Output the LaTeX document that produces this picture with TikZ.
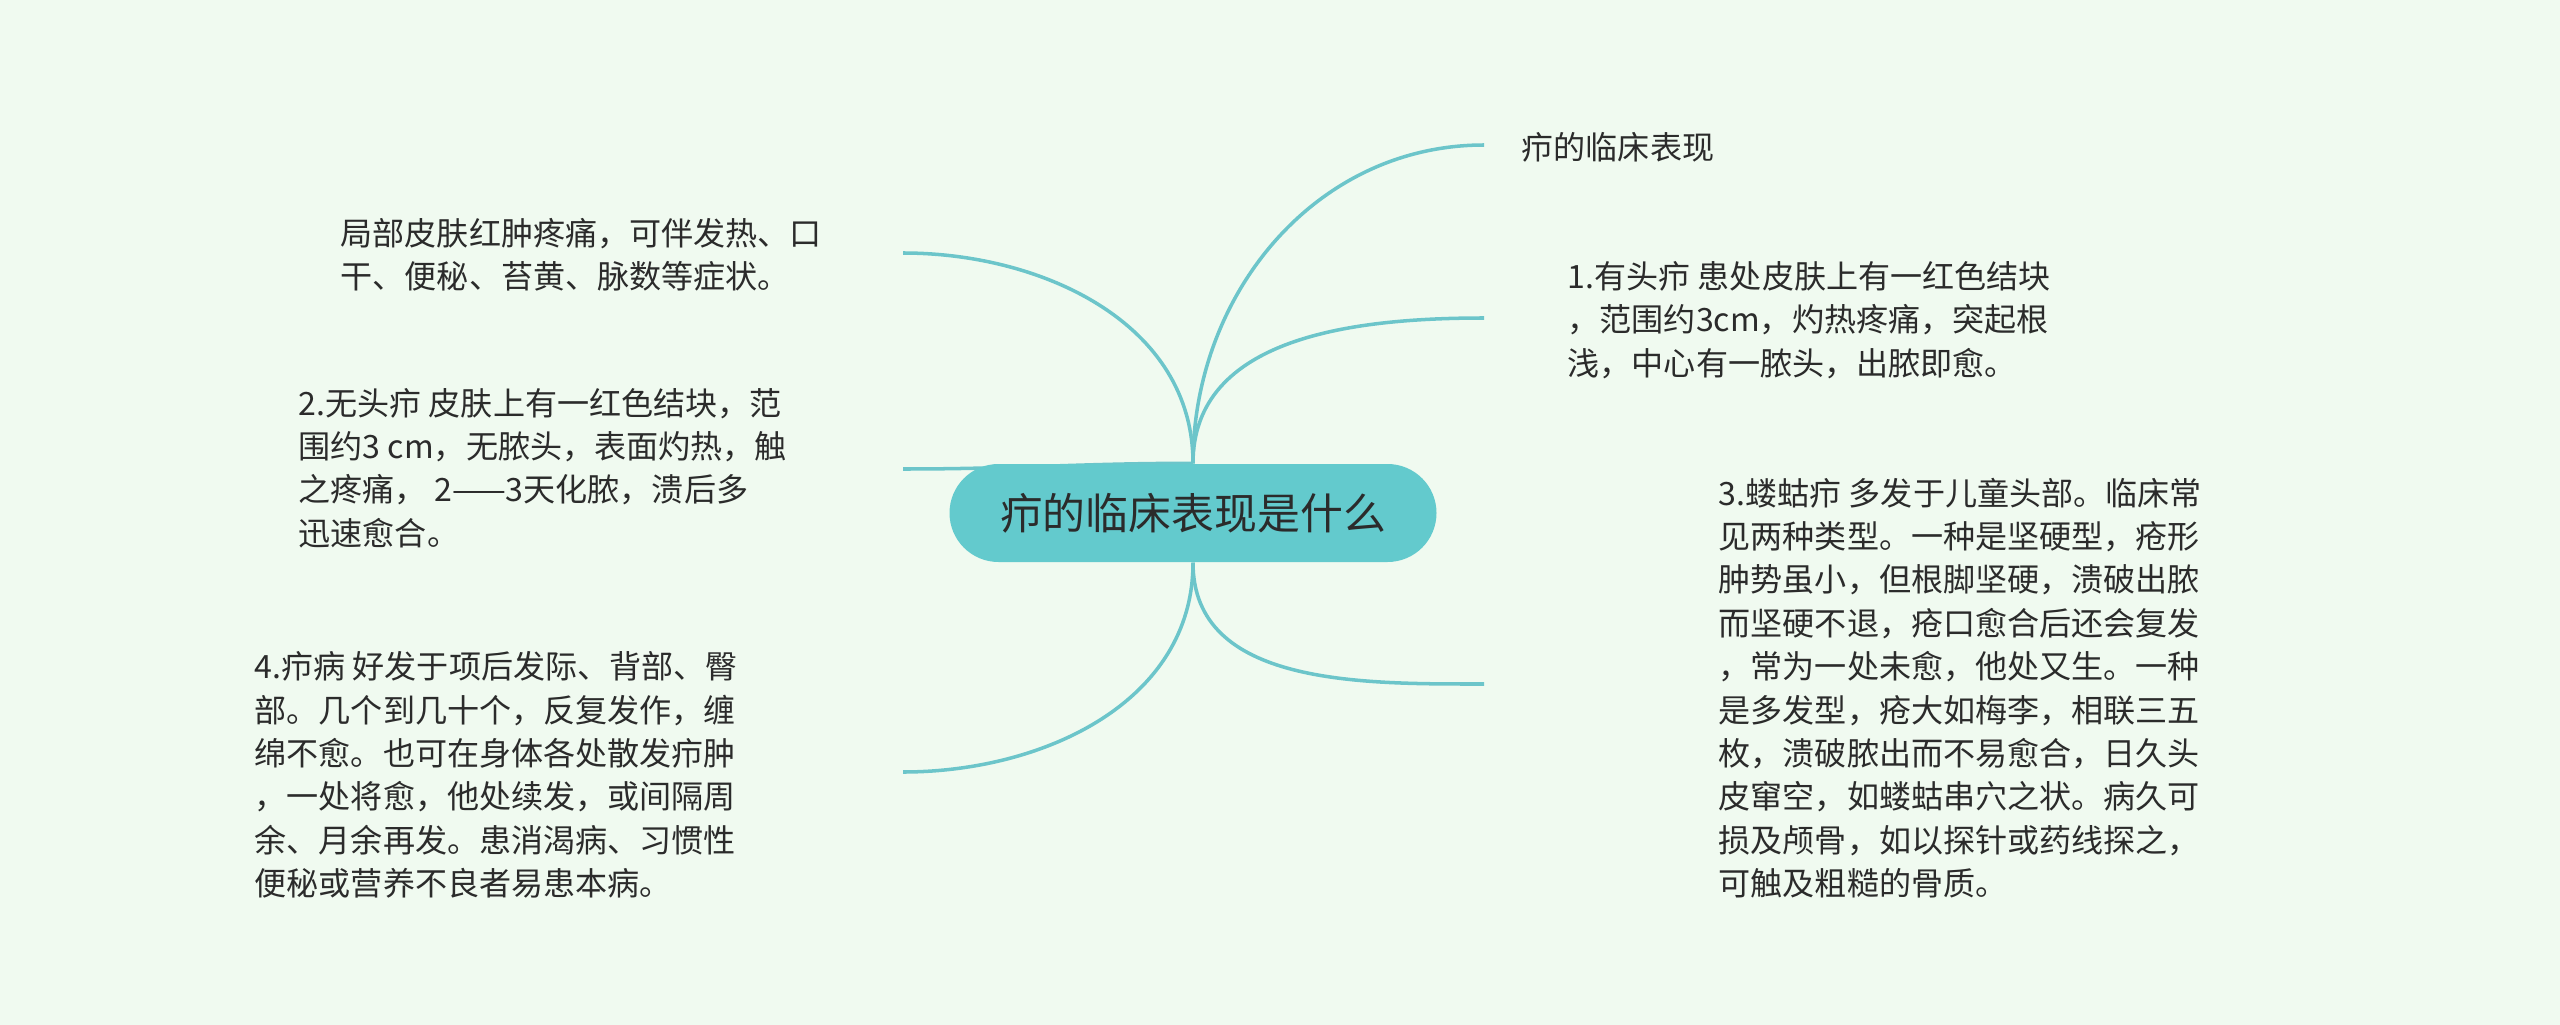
\documentclass[tikz,border=0pt]{standalone}
\usepackage{fontspec}
\setmainfont{Noto Sans CJK SC}
\usetikzlibrary{backgrounds}
\definecolor{colFondo}{HTML}{F0FAF0}
\definecolor{colRama}{HTML}{6CC5CA}
\definecolor{colCentro}{HTML}{63CACD}
\definecolor{colTexto}{HTML}{2B2B2B}
\tikzset{
  rama/.style={draw=colRama, line width=1pt},
  centro/.style={fill=colCentro, rounded corners=0.49cm, minimum width=4.87cm, minimum height=0.98cm, inner sep=0pt, text=colTexto, font=\fontsize{12.2}{14}\selectfont},
  hoja/.style={anchor=west, inner sep=0pt, align=left, text=colTexto, font=\fontsize{9.13}{12.35}\selectfont},
}
\begin{document}
\begin{tikzpicture}
        \useasboundingbox (0,0) rectangle (25.6,-10.25);
        %%%%%%%%%%%%%%%%%%%%%%%% Nodo central %%%%%%%%%%%%%%%%%%%%%%%%%%%%%%%%%%%
        \node[centro] (c) at (11.93,-5.13) {疖的临床表现是什么};
        %%%%%%%%%%%%%%%%%%%%%%%% Lado derecho %%%%%%%%%%%%%%%%%%%%%%%%%%%%%%%%%%%
        \coordinate (e1) at (14.84,-1.45); %Fin rama superior
        \coordinate (e2) at (14.84,-3.18);
        \coordinate (e3) at (14.84,-6.84); %Fin rama inferior
        \node[hoja] (t1) at (15.21,-1.47) {疖的临床表现};
        \node[hoja] (t2) at (15.67,-3.20) {1.有头疖 患处皮肤上有一红色结块\\，范围约3cm，灼热疼痛，突起根\\浅，中心有一脓头，出脓即愈。};
        \node[hoja] (t3) at (17.18,-6.88) {3.蝼蛄疖 多发于儿童头部。临床常\\见两种类型。一种是坚硬型，疮形\\肿势虽小，但根脚坚硬，溃破出脓\\而坚硬不退，疮口愈合后还会复发\\，常为一处未愈，他处又生。一种\\是多发型，疮大如梅李，相联三五\\枚，溃破脓出而不易愈合，日久头\\皮窜空，如蝼蛄串穴之状。病久可\\损及颅骨，如以探针或药线探之，\\可触及粗糙的骨质。};
        %%%%%%%%%%%%%%%%%%%%%%%% Lado izquierdo %%%%%%%%%%%%%%%%%%%%%%%%%%%%%%%%%
        \coordinate (e4) at (9.03,-2.53);
        \coordinate (e5) at (9.03,-4.69); %Rama casi horizontal
        \coordinate (e6) at (9.03,-7.72);
        \node[hoja] (t4) at (3.40,-2.55) {局部皮肤红肿疼痛，可伴发热、口\\干、便秘、苔黄、脉数等症状。};
        \node[hoja] (t5) at (2.98,-4.68) {2.无头疖 皮肤上有一红色结块，范\\围约3 cm，无脓头，表面灼热，触\\之疼痛，\ 2——3天化脓，溃后多\\迅速愈合。};
        \node[hoja] (t6) at (2.54,-7.75) {4.疖病 好发于项后发际、背部、臀\\部。几个到几十个，反复发作，缠\\绵不愈。也可在身体各处散发疖肿\\，一处将愈，他处续发，或间隔周\\余、月余再发。患消渴病、习惯性\\便秘或营养不良者易患本病。};
        %%%%%%%%%%%%%%%%%%%%%%%% Fondo y ramas %%%%%%%%%%%%%%%%%%%%%%%%%%%%%%%%%%
        \begin{scope}[on background layer]
          \fill[colFondo] (0,0) rectangle (25.6,-10.25);
          \draw[rama] (c.north) to[out=90,in=180] (e1);
          \draw[rama] (c.north) to[out=90,in=180] (e2);
          \draw[rama] (c.north) to[out=90,in=0] (e4);
          \draw[rama] (c.north) to[out=180,in=0] (e5); %Oculta bajo el nodo
          \draw[rama] (c.south) to[out=-90,in=180] (e3);
          \draw[rama] (c.south) to[out=-90,in=0] (e6);
        \end{scope}
      \end{tikzpicture}
\end{document}
